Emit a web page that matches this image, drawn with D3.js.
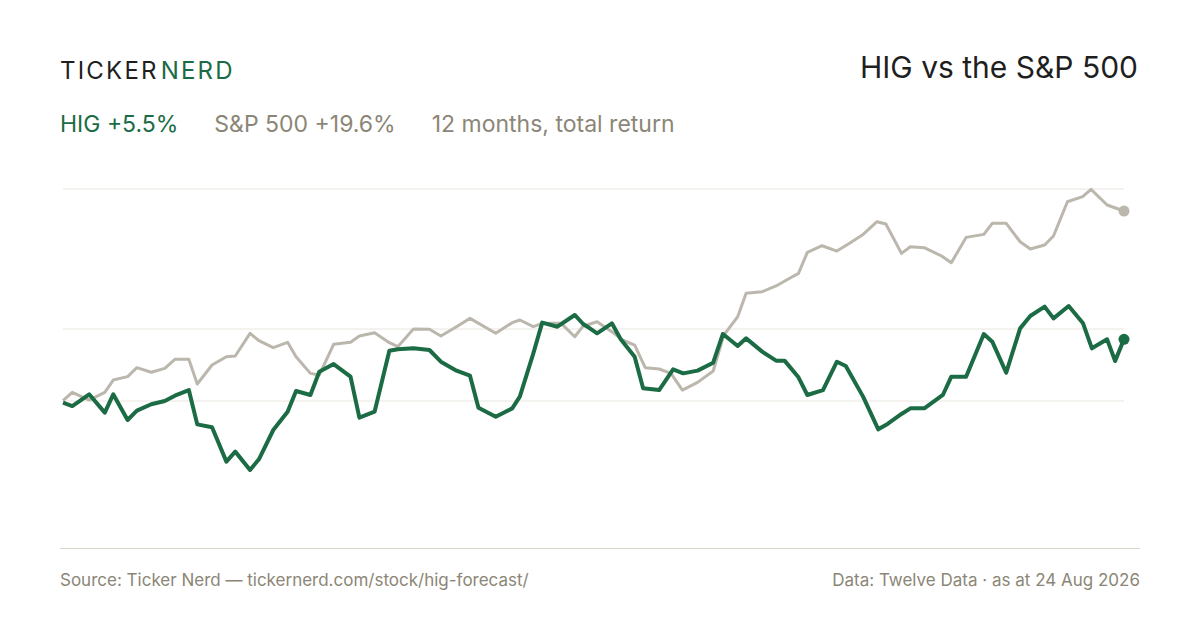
<!DOCTYPE html>
<html>
<head>
<meta charset="utf-8">
<script src="https://cdn.jsdelivr.net/npm/d3@7"></script>
<style>
  body { margin: 0; background: #fff; }
  svg { display: block; font-family: Inter, "Noto Sans", sans-serif; }
</style>
</head>
<body>
<svg id="chart" width="1200" height="630"></svg>
<script>
// trading day index and cumulative return (%)
var higDays = [0,2.2,6.2,9.9,11.9,15.3,17.5,20.9,24.1,26.5,29.8,31.8,35.3,38.7,40.8,44.3,46.4,49.8,53.2,55.2,58.6,60.7,64.1,68.1,70.2,73.8,77.3,79.3,83,86.8,89.5,93.2,96.4,98.4,102.5,106.4,108.2,111.4,113.5,117.1,121.2,123.2,124.2,126.5,130,132.1,135.4,137.4,141.2,144.5,146.9,150.3,154,156.3,159.8,161.8,165.6,168.9,170.9,174.2,176.3,180,183.3,185.4,189.5,193.1,195.3,198.6,200.7,204,208.4,210.4,213.9,218.1,220.1,223.4,226.7,229.1,232.5,234.6,238.2,241.6,243.7,247.3,249.2,251.3];
var higVals = [-0.17,-0.52,0.69,-1.2,0.69,-1.96,-1,-0.34,0,0.55,1.13,-2.41,-2.71,-6.25,-5.22,-7.11,-6.01,-2.99,-1.1,1.03,0.62,3.02,3.81,2.51,-1.72,-1.1,5.19,5.33,5.43,5.26,4.05,3.13,2.61,-0.69,-1.62,-0.76,0.45,4.91,8.08,7.66,8.87,7.94,7.66,6.98,8.01,6.36,4.57,1.31,1.13,3.26,2.85,3.13,3.95,6.91,5.67,6.46,5.09,4.16,4.16,2.44,0.62,1.13,4.05,3.61,0.45,-2.92,-2.37,-1.34,-0.76,-0.76,0.62,2.51,2.51,6.91,6.12,2.92,7.49,8.76,9.73,8.52,9.79,8.01,5.43,6.36,4.12,6.36];

var spxDays = [0,2.2,6.2,9.9,11.9,15.3,17.5,20.9,24.1,26.5,29.8,31.8,35.3,38.7,40.8,44.3,46.4,49.8,53.2,55.2,58.6,60.7,64.1,68.1,70.2,73.8,77.3,79.3,83,86.8,89.5,93.2,96.4,102.5,106.4,108.2,111.4,113.5,118,121.2,123.2,124.2,126.5,130,132.5,135.4,137.9,141.2,144,146.7,150.3,154,156.5,159.8,161.8,165.6,168.9,171.8,174.2,176.3,179.8,183.3,186.2,189.5,192.8,194.9,198.6,200.7,204,208.1,210.4,213.9,218.1,220.1,223.4,226.7,229.1,232.5,234.6,237.9,241.5,243.5,247.3,251.3];
var spxVals = [0.03,0.89,0.1,0.89,2.16,2.51,3.44,2.96,3.37,4.3,4.3,1.75,3.71,4.57,4.64,6.98,6.22,5.5,6.05,4.57,2.85,2.68,5.84,6.05,6.7,7.04,6.01,5.6,7.42,7.39,6.7,7.66,8.52,6.98,8.08,8.35,7.66,8.01,8.01,6.63,7.73,7.84,8.18,7.15,6.29,5.77,3.44,3.3,2.85,1.13,1.92,3.09,6.8,8.69,11.1,11.27,11.86,12.58,13.16,15.33,16.01,15.46,16.25,17.18,18.49,18.25,15.22,15.91,15.81,14.95,14.26,16.87,17.18,18.32,18.32,16.42,15.67,16.08,17.01,20.55,21.07,21.82,20.21,19.59];

var gridVals = [0, 7.42, 21.86];

var green = "#1b6b44", grey = "#bcb7ad", textGrey = "#8b8677", ink = "#1f1f1f";

var svg = d3.select("#chart");

var x = d3.scaleLinear().domain([0, 251.3]).range([63, 1124]);
var y = d3.scaleLinear().domain([0, 21.86]).range([401, 189]);

// header
var logo = svg.append("text").attr("x", 60).attr("y", 79)
  .attr("font-size", 24).attr("letter-spacing", 2.2);
logo.append("tspan").attr("fill", ink).text("TICKER");
logo.append("tspan").attr("fill", green).attr("dx", 2).text("NERD");

svg.append("text").attr("x", 1138).attr("y", 78).attr("text-anchor", "end")
  .attr("font-size", 30).attr("fill", ink).text("HIG vs the S&P 500");

var sub = svg.append("text").attr("x", 60).attr("y", 132).attr("font-size", 23);
sub.append("tspan").attr("fill", green).text("HIG +5.5%");
sub.append("tspan").attr("fill", textGrey).attr("dx", 36).text("S&P 500 +19.6%");
sub.append("tspan").attr("fill", textGrey).attr("dx", 36).text("12 months, total return");

// gridlines
svg.append("g").selectAll("line").data(gridVals).join("line")
  .attr("x1", 63).attr("x2", 1124)
  .attr("y1", function(d){ return y(d); }).attr("y2", function(d){ return y(d); })
  .attr("stroke", "#e9e6df").attr("stroke-width", 1);

svg.append("line").attr("x1", 60).attr("x2", 1140).attr("y1", 548.5).attr("y2", 548.5)
  .attr("stroke", "#d9d5cb").attr("stroke-width", 1);

var line = d3.line().x(function(d){ return x(d[0]); }).y(function(d){ return y(d[1]); });

var spx = d3.zip(spxDays, spxVals);
var hig = d3.zip(higDays, higVals);

svg.append("path").datum(spx).attr("d", line).attr("fill", "none")
  .attr("stroke", grey).attr("stroke-width", 3).attr("stroke-linejoin", "round");
svg.append("path").datum(hig).attr("d", line).attr("fill", "none")
  .attr("stroke", green).attr("stroke-width", 4).attr("stroke-linejoin", "round");

svg.append("circle").attr("cx", x(spx[spx.length-1][0])).attr("cy", y(spx[spx.length-1][1]))
  .attr("r", 5.5).attr("fill", grey);
svg.append("circle").attr("cx", x(hig[hig.length-1][0])).attr("cy", y(hig[hig.length-1][1]))
  .attr("r", 5.5).attr("fill", green);

// footer
svg.append("text").attr("x", 60).attr("y", 586).attr("font-size", 17).attr("fill", textGrey)
  .text("Source: Ticker Nerd \u2014 tickernerd.com/stock/hig-forecast/");
svg.append("text").attr("x", 1140).attr("y", 586).attr("text-anchor", "end")
  .attr("font-size", 17).attr("fill", textGrey)
  .text("Data: Twelve Data \u00b7 as at 24 Aug 2026");
</script>
</body>
</html>
